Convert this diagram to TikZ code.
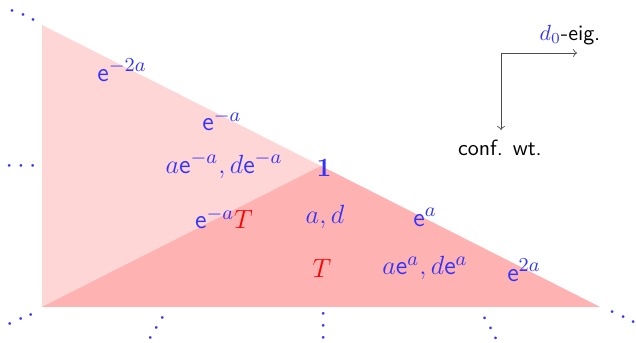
\documentclass[tikz,border=0pt]{standalone}
\begin{document}
\begin{tikzpicture}[x=0.016cm, y=-0.016cm, font=\sffamily\fontsize{12.5}{15}\selectfont,
    lbl/.style = {text=blue!80},
    dots/.style = {text=blue!80, inner sep=0pt},
    legend/.style = {font=\sffamily\fontsize{10}{12}\selectfont},
    axis/.style = {draw=black!70, ->, >=to}]

    \useasboundingbox (0,0) rectangle (636,343);

    \coordinate (tl) at (42,25);
    \coordinate (bl) at (42,307);
    \coordinate (br) at (600,307);
    \coordinate (apex) at (321,166);

    \fill[red!16] (tl) -- (bl) -- (br) -- cycle;
    \fill[red!30] (bl) -- (apex) -- (br) -- cycle;

    \node[lbl] (em2a) at (122,70) {$\mathsf{e}^{-2a}$};
    \node[lbl] (ema) at (222,120) {$\mathsf{e}^{-a}$};
    \node[lbl] (aema) at (224,165) {$a\mathsf{e}^{-a}, d\mathsf{e}^{-a}$};
    \node[lbl] (one) at (324,168) {$\mathbf{1}$};
    \node[lbl] (emaT) at (224,218) {$\mathsf{e}^{-a}\textcolor{red}{T}$};
    \node[lbl] (ad) at (325,217) {$a, d$};
    \node[red] (T) at (322,268) {$T$};
    \node[lbl] (ea) at (425,217) {$\mathsf{e}^{a}$};
    \node[lbl] (aea) at (425,268) {$a\mathsf{e}^{a}, d\mathsf{e}^{a}$};
    \node[lbl] (e2a) at (524,270) {$\mathsf{e}^{2a}$};

    \node[dots, rotate=-24] (dtl) at (23,16) {$\cdots$};
    \node[dots] (dl) at (21,167) {$\cdots$};
    \node[dots, rotate=24] (dbl) at (21,320) {$\cdots$};
    \node[dots, rotate=59] (db2) at (157,328) {$\cdots$};
    \node[dots, rotate=90] (db3) at (324,326) {$\cdots$};
    \node[dots, rotate=-60] (db4) at (490,329) {$\cdots$};
    \node[dots, rotate=-25] (dbr) at (623,318) {$\cdots$};

    % legend
    \coordinate (crn) at (501,53);
    \coordinate (eigend) at (577,53);
    \coordinate (wtend) at (501,130);
    \draw[axis] (crn) -- (eigend);
    \draw[axis] (crn) -- (wtend);
    \node[legend] (eig) at (570,35) {\textcolor{blue!80}{$d_0$}-eig.};
    \node[legend] (wt) at (500,148) {conf. wt.};

\end{tikzpicture}
\end{document}
